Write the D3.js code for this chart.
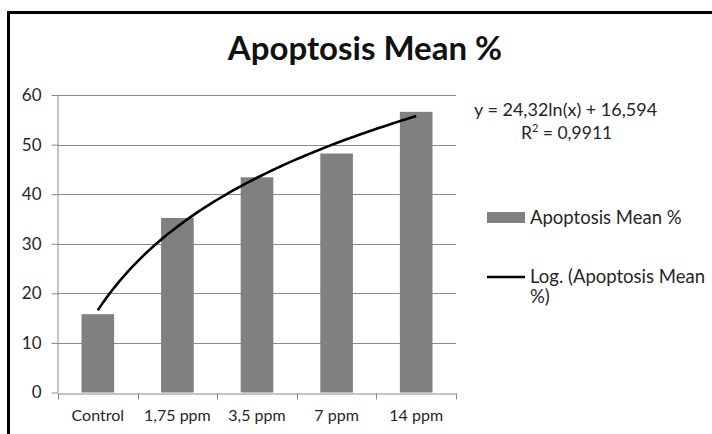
<!DOCTYPE html>
<html>
<head>
<meta charset="utf-8">
<script src="https://cdn.jsdelivr.net/npm/d3@7"></script>
<style>
  body { margin: 0; background: #fff; }
  svg, svg text { font-family: Lato, "Open Sans", sans-serif; }
  svg { display: block; }
</style>
</head>
<body>
<div id="canvas"></div>
<script>
"use strict";

let svgWidth = 712;
let svgHeight = 434;

// data
let categories = ["Control", "1,75 ppm", "3,5 ppm", "7 ppm", "14 ppm"];
let apoptosisMean = [15.8, 35.2, 43.4, 48.2, 56.6];
let yTicks = [0, 10, 20, 30, 40, 50, 60];

// log trendline as printed on the chart: y = a ln(x) + b
let trendA = 24.32;
let trendB = 16.594;
let equationLabel = "y = 24,32ln(x) + 16,594";
let r2Label = "0,9911";

let plot = { left: 58, right: 456, top: 95, bottom: 392.5 };

let svg = d3.select("#canvas")
  .append("svg")
  .attr("width", svgWidth)
  .attr("height", svgHeight);

// outer chart frame (runs off the right and bottom of the picture)
svg.append("rect")
  .attr("x", 8.5)
  .attr("y", 12.5)
  .attr("width", svgWidth + 20)
  .attr("height", svgHeight + 20)
  .attr("fill", "#fff")
  .attr("stroke", "#000")
  .attr("stroke-width", 3);

let xScale = d3.scaleBand()
  .domain(categories)
  .range([plot.left, plot.right])
  .padding(0);

let yScale = d3.scaleLinear()
  .domain([0, 60])
  .range([plot.bottom, plot.top]);

// gridlines
svg.append("g")
  .selectAll("line")
  .data(yTicks.filter(function(d){ return d > 0; }))
  .enter()
  .append("line")
  .attr("x1", plot.left)
  .attr("x2", plot.right)
  .attr("y1", function(d){ return Math.round(yScale(d)) + 0.5; })
  .attr("y2", function(d){ return Math.round(yScale(d)) + 0.5; })
  .attr("stroke", "#8a8a8a")
  .attr("stroke-width", 1);

// bars
let barW = xScale.bandwidth() * 0.41;
svg.append("g")
  .selectAll("rect")
  .data(apoptosisMean)
  .enter()
  .append("rect")
  .attr("x", function(d, i){ return xScale(categories[i]) + (xScale.bandwidth() - barW) / 2; })
  .attr("y", function(d){ return yScale(d); })
  .attr("width", barW)
  .attr("height", function(d){ return yScale(0) - yScale(d); })
  .attr("fill", "#808080");

// y axis
let yAxis = svg.append("g")
  .attr("transform", "translate(" + (plot.left + 0.5) + ",0)")
  .call(d3.axisLeft(yScale).tickValues(yTicks).tickSize(7).tickPadding(10));
yAxis.attr("font-family", null);
yAxis.select(".domain").attr("stroke", "#8a8a8a").attr("d", "M-0.5," + plot.top + "V" + plot.bottom);
yAxis.selectAll(".tick line").attr("stroke", "#8a8a8a");
yAxis.selectAll("text").style("font-size", "17px").attr("fill", "#262626");

// x axis: line, ticks at category boundaries, labels under centers
let xAxis = svg.append("g")
  .attr("transform", "translate(0," + (Math.round(plot.bottom) + 0.5) + ")")
  .call(d3.axisBottom(xScale).tickSize(0).tickPadding(16));
xAxis.attr("font-family", null);
xAxis.select(".domain").attr("stroke", "#8a8a8a");
xAxis.selectAll("text").style("font-size", "16px").attr("fill", "#262626");

xAxis.selectAll(".boundary")
  .data(d3.range(categories.length + 1))
  .enter()
  .append("line")
  .attr("class", "boundary")
  .attr("x1", function(i){ return Math.round(plot.left + i * xScale.step()) + 0.5; })
  .attr("x2", function(i){ return Math.round(plot.left + i * xScale.step()) + 0.5; })
  .attr("y1", 0)
  .attr("y2", 6)
  .attr("stroke", "#8a8a8a");

// logarithmic trendline, x = 1..n at the category centers
let trendX = d3.range(1, categories.length + 0.001, 0.05);
let centerX = d3.scaleLinear()
  .domain([1, categories.length])
  .range([xScale(categories[0]) + xScale.bandwidth() / 2,
          xScale(categories[categories.length - 1]) + xScale.bandwidth() / 2]);

svg.append("path")
  .datum(trendX)
  .attr("fill", "none")
  .attr("stroke", "#000")
  .attr("stroke-width", 2.6)
  .attr("d", d3.line()
    .x(function(t){ return centerX(t); })
    .y(function(t){ return yScale(trendA * Math.log(t) + trendB); })
    .curve(d3.curveBasis));

// title
svg.append("text")
  .attr("x", 365)
  .attr("y", 60)
  .attr("text-anchor", "middle")
  .style("font-size", "33px")
  .style("font-weight", "bold")
  .attr("fill", "#111")
  .text("Apoptosis Mean %");

// equation label
svg.append("text")
  .attr("x", 474)
  .attr("y", 116)
  .style("font-size", "18px")
  .attr("fill", "#262626")
  .text(equationLabel);

let r2 = svg.append("text")
  .attr("x", 521)
  .attr("y", 139)
  .style("font-size", "17.5px")
  .attr("fill", "#262626");
r2.append("tspan").text("R");
r2.append("tspan").attr("dy", -7).style("font-size", "11px").text("2");
r2.append("tspan").attr("dy", 7).text(" = " + r2Label);

// legend
svg.append("rect")
  .attr("x", 487)
  .attr("y", 212)
  .attr("width", 38)
  .attr("height", 11)
  .attr("fill", "#808080");

svg.append("text")
  .attr("x", 530)
  .attr("y", 224)
  .style("font-size", "18.5px")
  .attr("fill", "#262626")
  .text("Apoptosis Mean %");

svg.append("line")
  .attr("x1", 487)
  .attr("x2", 525)
  .attr("y1", 277)
  .attr("y2", 277)
  .attr("stroke", "#000")
  .attr("stroke-width", 2.5);

let logLabel = svg.append("text")
  .style("font-size", "18.5px")
  .attr("fill", "#262626");
logLabel.append("tspan").attr("x", 530).attr("y", 283).text("Log. (Apoptosis Mean");
logLabel.append("tspan").attr("x", 530).attr("y", 303).text("%)");
</script>
</body>
</html>
